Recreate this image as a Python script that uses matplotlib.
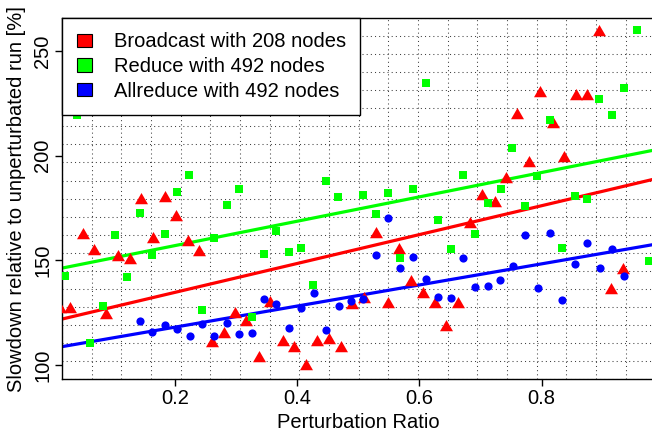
import matplotlib
matplotlib.use('Agg')
import matplotlib.pyplot as plt
import numpy as np
from matplotlib.patches import Patch
from matplotlib.ticker import FixedLocator

plt.rcParams['font.family'] = ['Liberation Sans', 'DejaVu Sans']

# ---- data ----
series_labels = ["Broadcast with 208 nodes", "Reduce with 492 nodes", "Allreduce with 492 nodes"]

bcast_x = [0.0125, 0.029, 0.049, 0.068, 0.087, 0.106, 0.126, 0.144, 0.164, 0.183,
           0.202, 0.222, 0.240, 0.261, 0.280, 0.298, 0.317, 0.337, 0.355, 0.376,
           0.394, 0.414, 0.433, 0.452, 0.472, 0.490, 0.510, 0.529, 0.549, 0.567,
           0.586, 0.606, 0.625, 0.644, 0.663, 0.683, 0.702, 0.723, 0.741, 0.760,
           0.779, 0.798, 0.818, 0.837, 0.856, 0.875, 0.894, 0.913, 0.933]
bcast_y = [126.8, 126.8, 162.3, 154.3, 124.1, 151.7, 150.0, 178.9, 160.0, 179.6,
           170.5, 158.6, 154.0, 110.6, 114.7, 124.6, 120.6, 103.5, 129.7, 110.8,
           108.3, 99.3, 110.8, 111.8, 108.3, 128.6, 131.4, 162.5, 129.3, 154.7,
           139.5, 134.1, 129.0, 118.2, 129.1, 167.2, 180.7, 177.5, 188.8, 219.5,
           196.5, 229.7, 214.9, 198.7, 228.6, 228.6, 259.2, 135.9, 145.4]

reduce_x = [0.020, 0.040, 0.061, 0.082, 0.102, 0.122, 0.143, 0.163, 0.183, 0.204,
            0.223, 0.244, 0.264, 0.285, 0.305, 0.326, 0.346, 0.366, 0.387, 0.407,
            0.426, 0.447, 0.467, 0.508, 0.529, 0.549, 0.569, 0.590, 0.610, 0.631,
            0.651, 0.672, 0.691, 0.712, 0.733, 0.752, 0.773, 0.793, 0.813, 0.834,
            0.854, 0.875, 0.894, 0.915, 0.935, 0.956, 0.976]
reduce_y = [142.5, 219.4, 110.5, 128.1, 162.1, 141.9, 172.6, 152.4, 162.6, 182.5,
            190.6, 126.2, 160.8, 176.2, 183.9, 123.1, 152.9, 163.9, 154.0, 156.1,
            138.1, 187.9, 180.1, 181.1, 172.1, 182.0, 151.0, 184.3, 234.6, 169.3,
            155.3, 190.7, 162.5, 177.3, 184.3, 203.9, 176.1, 190.2, 216.8, 155.8,
            180.7, 179.1, 227.3, 219.3, 232.2, 259.8, 149.8]

allred_x = [0.143, 0.163, 0.183, 0.204, 0.224, 0.244, 0.264, 0.285, 0.305, 0.326,
            0.346, 0.366, 0.387, 0.407, 0.427, 0.447, 0.468, 0.488, 0.508, 0.529,
            0.549, 0.569, 0.590, 0.610, 0.630, 0.651, 0.671, 0.691, 0.712, 0.732,
            0.753, 0.773, 0.794, 0.813, 0.834, 0.854, 0.874, 0.895, 0.915, 0.935]
allred_y = [121.1, 115.9, 118.9, 117.1, 114.0, 119.4, 114.0, 119.9, 114.9, 115.4,
            131.6, 129.1, 117.5, 127.1, 134.3, 116.7, 128.2, 130.6, 131.4, 152.7,
            170.3, 146.1, 151.8, 141.3, 132.7, 131.8, 151.3, 137.1, 137.7, 140.5,
            147.4, 162.0, 136.9, 163.2, 130.9, 148.3, 158.4, 146.2, 155.6, 142.3]

# linear fit coefficients (intercept, slope) for Broadcast, Reduce, Allreduce
fit_intercepts = [120.9, 145.4, 108.0]
fit_slopes = [69.0, 58.2, 50.4]

x_ticks = [0.2, 0.4, 0.6, 0.8]
x_tick_labels = ["0.2", "0.4", "0.6", "0.8"]
y_ticks = [100, 150, 200, 250]
y_tick_labels = ["100", "150", "200", "250"]

# ---- figure ----
W, H = 652, 432
fig = plt.figure(figsize=(W / 100, H / 100), dpi=100)
ax = fig.add_axes([62 / W, (H - 379.4) / H, 593.2 / W, 361.6 / H])

xlim = (0.0151, 0.9858)
ylim = (93.12, 265.86)
ax.set_xlim(*xlim)
ax.set_ylim(*ylim)

colors = ['#FF0000', '#00FF00', '#0000FF']
FS = 14.5

# regression lines
for b, m, c in zip(fit_intercepts, fit_slopes, colors):
    ax.axline((0, b), slope=m, color=c, lw=2.3, zorder=2, solid_capstyle='butt')

tri = [(-1, -0.5774), (1, -0.5774), (0, 1.1547)]
ax.plot(bcast_x, bcast_y, linestyle='none', marker=tri, markersize=10.8,
        color=colors[0], markeredgewidth=0, zorder=3)
ax.plot(reduce_x, reduce_y, linestyle='none', marker='s', markersize=5.3,
        color=colors[1], markeredgewidth=0, zorder=4)
ax.plot(allred_x, allred_y, linestyle='none', marker='o', markersize=5.9,
        color=colors[2], markeredgewidth=0, zorder=5)

# dotted grid (20 x 20 cells)
ax.xaxis.set_minor_locator(FixedLocator(np.linspace(xlim[0], xlim[1], 21)))
ax.yaxis.set_minor_locator(FixedLocator(np.linspace(ylim[0], ylim[1], 21)))
ax.grid(which='minor', color='0.25', linestyle=(0, (1, 3)), linewidth=0.75, zorder=0)
ax.grid(which='major', visible=False)
ax.set_axisbelow(True)
ax.tick_params(which='minor', length=0)

ax.set_xticks(x_ticks)
ax.set_xticklabels(x_tick_labels)
ax.set_yticks(y_ticks)
ax.set_yticklabels(y_tick_labels, rotation=90, va='center')
ax.tick_params(which='major', direction='out', length=5, width=1.0,
               labelsize=FS, pad=2)

for s in ax.spines.values():
    s.set_linewidth(1.0)

ax.set_xlabel("Perturbation Ratio", fontsize=FS)
ax.set_ylabel("Slowdown relative to unperturbated run [%]", fontsize=FS)
ax.xaxis.set_label_coords(0.5, -0.094)
ax.yaxis.set_label_coords(-0.06, 0.5)

handles = [Patch(facecolor=c, edgecolor='black', linewidth=0.8) for c in colors]
leg = ax.legend(handles, series_labels, loc='upper left', bbox_to_anchor=(0, 1),
                borderaxespad=0, frameon=True, fancybox=False, edgecolor='black',
                framealpha=1, handlelength=0.75, handleheight=0.65,
                handletextpad=1.1, borderpad=0.72, labelspacing=0.28, fontsize=FS)
leg.get_frame().set_linewidth(1.0)
leg.set_zorder(10)

fig.savefig("out.png", dpi=100)
